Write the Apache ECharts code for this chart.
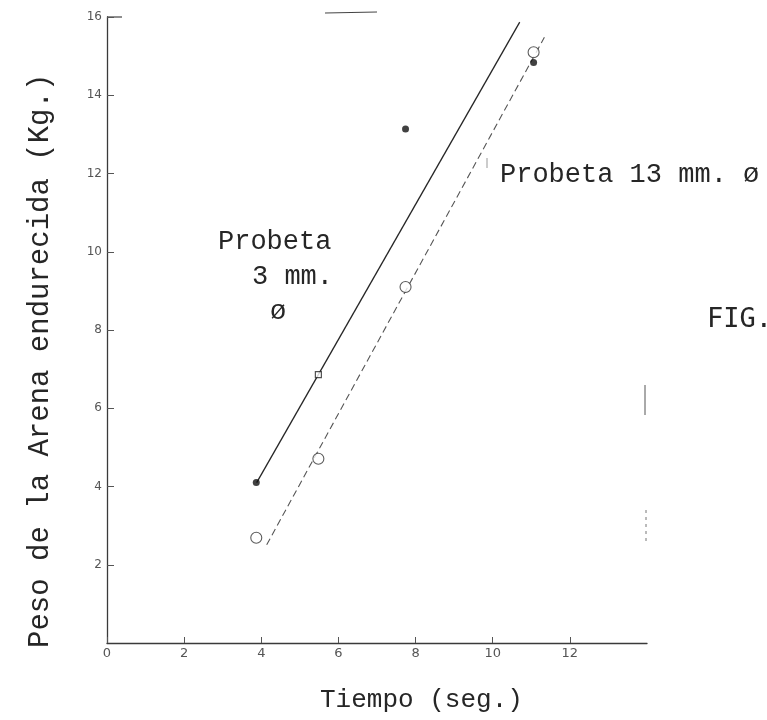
<!DOCTYPE html>
<html>
<head>
<meta charset="utf-8">
<script src="https://cdn.jsdelivr.net/npm/echarts@6/dist/echarts.min.js"></script>
<style>
html,body{margin:0;padding:0;background:#fff;}
#chart{width:767px;height:720px;}
</style>
</head>
<body>
<div id="chart"></div>
<script>
// Data
const tiempo = [3.87, 5.48, 7.74, 11.06];
const peso3mm = [4.1, 6.86, 13.14, 14.84];
const peso13mm = [2.69, 4.71, 9.1, 15.1];
const fit3mmX = [3.88, 10.7];
const fit3mmY = [4.1, 15.87];
const fit13mmX = [4.14, 11.34];
const fit13mmY = [2.51, 15.48];
const xTickLabels = [0, 2, 4, 6, 8, 10, 12];
const yTickLabels = [2, 4, 6, 8, 10, 12, 14, 16];

const mono = '"Liberation Mono", "DejaVu Sans Mono", monospace';
const ink = '#262626';

const pts3 = tiempo.map((t, i) => {
  const item = { value: [t, peso3mm[i]] };
  if (i === 1) {
    item.symbol = 'rect';
    item.symbolSize = 6;
    item.itemStyle = { color: '#fff', borderColor: ink, borderWidth: 1.2 };
  }
  return item;
});
const pts13 = tiempo.map((t, i) => [t, peso13mm[i]]);
const line3 = fit3mmX.map((x, i) => [x, fit3mmY[i]]);
const line13 = fit13mmX.map((x, i) => [x, fit13mmY[i]]);

function txt(text, x, y, size, family) {
  return { type: 'text', x: x, y: y,
    style: { text: text, font: size + 'px ' + (family || mono), fill: ink,
             textAlign: 'left', textVerticalAlign: 'middle' } };
}

const chart = echarts.init(document.getElementById('chart'));
chart.setOption({
  backgroundColor: '#fff',
  animation: false,
  grid: { left: 107, right: 120, top: 17, bottom: 77, containLabel: false },
  xAxis: {
    type: 'value', min: 0, max: 14, interval: 2,
    axisLine: { show: true, lineStyle: { color: '#3a3a3a', width: 1.3 } },
    axisTick: { show: true, inside: true, length: 6, customValues: xTickLabels, lineStyle: { color: '#555' } },
    axisLabel: { customValues: xTickLabels, color: '#555', fontSize: 13, margin: 4, fontFamily: 'DejaVu Sans' },
    splitLine: { show: false }
  },
  yAxis: {
    type: 'value', min: 0, max: 16, interval: 2,
    axisLine: { show: true, lineStyle: { color: '#3a3a3a', width: 1.3 } },
    axisTick: { show: true, inside: true, length: 7, customValues: yTickLabels, lineStyle: { color: '#555' } },
    axisLabel: { customValues: yTickLabels, color: '#555', fontSize: 12, margin: 5, fontFamily: 'DejaVu Sans' },
    splitLine: { show: false }
  },
  series: [
    {
      name: 'Ajuste 3 mm', type: 'line', data: line3, symbol: 'none',
      lineStyle: { color: ink, width: 1.3 }, z: 2
    },
    {
      name: 'Ajuste 13 mm', type: 'line', data: line13, symbol: 'none',
      lineStyle: { color: '#555', width: 1.1, type: [7, 4] }, z: 2
    },
    {
      name: 'Probeta 3 mm', type: 'scatter', data: pts3, symbol: 'circle', symbolSize: 7,
      itemStyle: { color: '#111' }, z: 3
    },
    {
      name: 'Probeta 13 mm', type: 'scatter', data: pts13, symbol: 'circle', symbolSize: 11,
      itemStyle: { color: '#fff', borderColor: '#333', borderWidth: 1.1 }, z: 3
    }
  ],
  graphic: [
    { type: 'text', x: 40, y: 648, rotation: Math.PI / 2,
      style: { text: 'Peso de la Arena endurecida (Kg.)', font: '29px ' + mono, fill: ink,
               textAlign: 'left', textVerticalAlign: 'middle' } },
    txt('Tiempo (seg.)', 320, 700, 26),
    txt('Probeta', 218, 242, 27),
    txt('3 mm.', 252, 277, 27),
    txt('ø', 270, 312, 27),
    txt('Probeta 13 mm. ø', 500, 175, 27),
    txt('FIG.', 707, 320, 27, '"DejaVu Sans Mono"'),
    { type: 'line', shape: { x1: 107, y1: 17, x2: 122, y2: 17 }, style: { stroke: '#444', lineWidth: 1.2 } },
    { type: 'line', shape: { x1: 325, y1: 13, x2: 377, y2: 12 }, style: { stroke: '#444', lineWidth: 1.2 } },
    { type: 'line', shape: { x1: 487, y1: 158, x2: 487, y2: 168 }, style: { stroke: '#999', lineWidth: 1 } },
    { type: 'line', shape: { x1: 645, y1: 385, x2: 645, y2: 415 }, style: { stroke: '#555', lineWidth: 1 } },
    { type: 'line', shape: { x1: 646, y1: 510, x2: 646, y2: 545 }, style: { stroke: '#777', lineWidth: 1, lineDash: [3, 4] } }
  ]
});
</script>
</body>
</html>
